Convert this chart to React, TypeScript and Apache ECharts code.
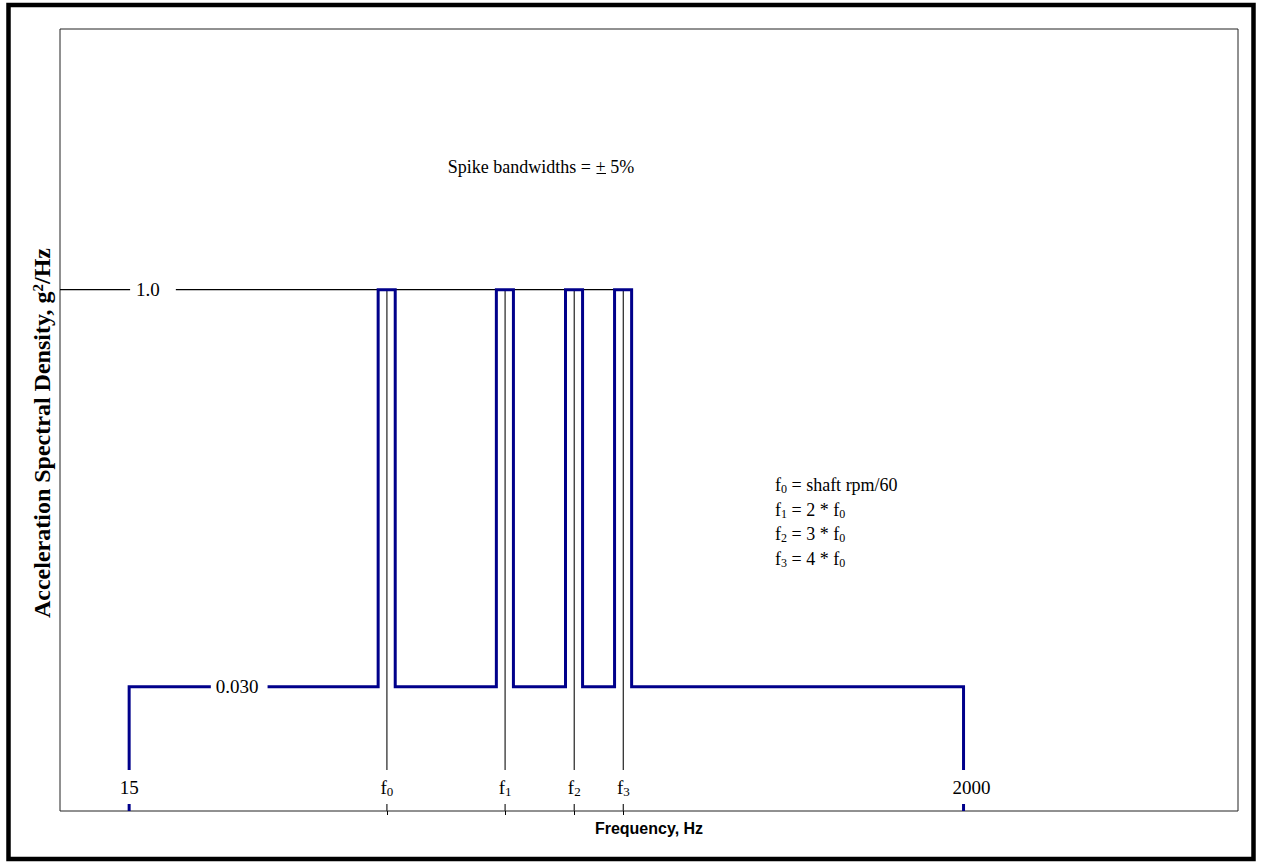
import React, { useEffect, useRef } from 'react';
import * as echarts from 'echarts';

// ---- data ----
const profileHz = [15, 15, 64.6, 64.6, 71.4, 71.4, 129.2, 129.2, 142.8, 142.8, 193.8, 193.8, 214.2, 214.2, 258.4, 258.4, 285.6, 285.6, 2000, 2000];
const profileAsd = [0.01, 0.03, 0.03, 1, 1, 0.03, 0.03, 1, 1, 0.03, 0.03, 1, 1, 0.03, 0.03, 1, 1, 0.03, 0.03, 0.01];
const harmonicsHz = [68, 136, 204, 272];
const xTickValues = [15, 68, 136, 204, 272, 2000];
const xTickLabels = ['15', 'f0', 'f1', 'f2', 'f3', '2000'];
const levelValues = [1.0, 0.03];
const levelLabels = ['1.0', '0.030'];
const legendLines = ['f0 = shaft rpm/60', 'f1 = 2 * f0', 'f2 = 3 * f0', 'f3 = 4 * f0'];
const noteText = 'Spike bandwidths = + 5%';
const xTitle = 'Frequency, Hz';
const yTitleMain = 'Acceleration Spectral Density, g';
const yTitleSup = '2';
const yTitleEnd = '/Hz';

const SERIF = '"Liberation Serif", "Times New Roman", serif';
const SANS = '"Liberation Sans", Arial, sans-serif';

const toRich = (s: string) =>
  s
    .split(/(f\d)/)
    .filter((p) => p.length > 0)
    .map((p) => (/^f\d$/.test(p) ? `{t|f}{s|${p[1]}}` : `{t|${p}}`))
    .join('');

const noBorder = { textBorderWidth: 0, textBorderColor: 'transparent', textShadowBlur: 0 };

const labelRich = {
  t: { fontSize: 19, fontFamily: SERIF, lineHeight: 20, color: '#000', ...noBorder },
  s: { fontSize: 13, fontFamily: SERIF, lineHeight: 12, padding: [8, 0, 0, 0], color: '#000', ...noBorder },
};
const graphicRich = {
  t: { fontSize: 18, fontFamily: SERIF, lineHeight: 20, fill: '#000' },
  s: { fontSize: 12, fontFamily: SERIF, lineHeight: 12, padding: [8, 0, 0, 0], fill: '#000' },
};

export default function App() {
  const ref = useRef<HTMLDivElement>(null);

  useEffect(() => {
    if (!ref.current) return;
    const chart = echarts.init(ref.current, undefined, { renderer: 'svg' });

    const verticalData: any[] = [];
    harmonicsHz.forEach((f) => {
      verticalData.push([f, 1], [f, 0.01], [f, '-']);
    });

    const levelAnchorsHz = [17.25, 28.6];
    const levelPadding = [
      [2, 16, 2, 6],
      [2, 9, 2, 5],
    ];

    const option: any = {
      animation: false,
      backgroundColor: '#fff',
      grid: {
        left: 60,
        top: 29,
        right: 23,
        bottom: 51,
        show: true,
        borderColor: '#222',
        borderWidth: 1,
        backgroundColor: 'transparent',
      },
      xAxis: {
        type: 'log',
        logBase: 10,
        min: 10,
        max: 10000,
        axisLine: { show: false },
        axisLabel: { show: false },
        splitLine: { show: false },
        axisTick: {
          show: true,
          inside: false,
          length: 4,
          customValues: harmonicsHz,
          lineStyle: { color: '#000', width: 1 },
        },
      },
      yAxis: {
        type: 'log',
        logBase: 10,
        min: 0.01,
        max: 10,
        axisLine: { show: false },
        axisLabel: { show: false },
        axisTick: { show: false },
        splitLine: { show: false },
      },
      series: [
        {
          type: 'line',
          data: [
            [10, levelValues[0]],
            [harmonicsHz[3], levelValues[0]],
          ],
          symbol: 'none',
          lineStyle: { color: '#000', width: 1.3 },
          z: 2,
          silent: true,
        },
        {
          type: 'line',
          data: verticalData,
          symbol: 'none',
          connectNulls: false,
          lineStyle: { color: '#333', width: 1.3 },
          z: 2,
          silent: true,
        },
        {
          type: 'line',
          data: profileHz.map((f, i) => [f, profileAsd[i]]),
          symbol: 'none',
          lineStyle: { color: '#00008b', width: 3, join: 'miter', cap: 'butt' },
          z: 3,
          silent: true,
        },
        {
          type: 'scatter',
          symbolSize: 0,
          z: 6,
          silent: true,
          itemStyle: { color: '#000', opacity: 1 },
          data: levelValues.map((v, i) => ({
            value: [levelAnchorsHz[i], v],
            label: { padding: levelPadding[i] },
          })),
          label: {
            show: true,
            position: 'inside',
            formatter: (p: any) => levelLabels[p.dataIndex],
            fontFamily: SERIF,
            fontSize: 19,
            color: '#000',
            backgroundColor: '#fff',
            ...noBorder,
          },
        },
        {
          type: 'scatter',
          symbolSize: 0,
          z: 6,
          silent: true,
          itemStyle: { color: '#000', opacity: 1 },
          data: xTickValues.map((v, i) => ({
            value: [v, 0.01],
            label: xTickLabels[i] === '2000' ? { offset: [8, 0] } : {},
          })),
          label: {
            show: true,
            position: 'top',
            distance: 7,
            color: '#000',
            fontFamily: SERIF,
            fontSize: 19,
            formatter: (p: any) => toRich(xTickLabels[p.dataIndex]),
            backgroundColor: '#fff',
            padding: [7, 2, 7, 2],
            rich: labelRich,
            ...noBorder,
          },
        },
      ],
      graphic: [
        {
          type: 'rect',
          shape: { x: 8.5, y: 5, width: 1245, height: 854 },
          style: { fill: 'none', stroke: '#000', lineWidth: 4.5 },
          silent: true,
        },
        {
          type: 'text',
          x: 42,
          y: 433,
          rotation: Math.PI / 2,
          silent: true,
          style: {
            text: `{b|${yTitleMain}}{p|${yTitleSup}}{b|${yTitleEnd}}`,
            align: 'center',
            verticalAlign: 'middle',
            fill: '#000',
            rich: {
              b: { fontSize: 24, fontWeight: 'bold', fontFamily: SERIF, lineHeight: 25, fill: '#000' },
              p: { fontSize: 15, fontWeight: 'bold', fontFamily: SERIF, lineHeight: 15, padding: [0, 0, 9, 0], fill: '#000' },
            },
          },
        },
        {
          type: 'text',
          x: 649,
          y: 828,
          silent: true,
          style: {
            text: xTitle,
            font: `bold 16px ${SANS}`,
            align: 'center',
            verticalAlign: 'middle',
            fill: '#000',
          },
        },
        {
          type: 'text',
          x: 541,
          y: 167,
          silent: true,
          style: {
            text: noteText,
            font: `18px ${SERIF}`,
            align: 'center',
            verticalAlign: 'middle',
            fill: '#000',
          },
        },
        {
          type: 'line',
          silent: true,
          shape: { x1: 596.5, y1: 173.5, x2: 606, y2: 173.5 },
          style: { stroke: '#000', lineWidth: 1 },
        },
        ...legendLines.map((line, i) => ({
          type: 'text',
          x: 775,
          y: 485 + i * 24.5,
          silent: true,
          style: {
            text: toRich(line),
            align: 'left',
            verticalAlign: 'middle',
            fill: '#000',
            rich: graphicRich,
          },
        })),
      ],
    };

    chart.setOption(option);
    return () => {
      chart.dispose();
    };
  }, []);

  return (
    <div
      ref={ref}
      style={{ position: 'absolute', left: 0, top: 0, width: 1261, height: 862, background: '#fff' }}
    />
  );
}
